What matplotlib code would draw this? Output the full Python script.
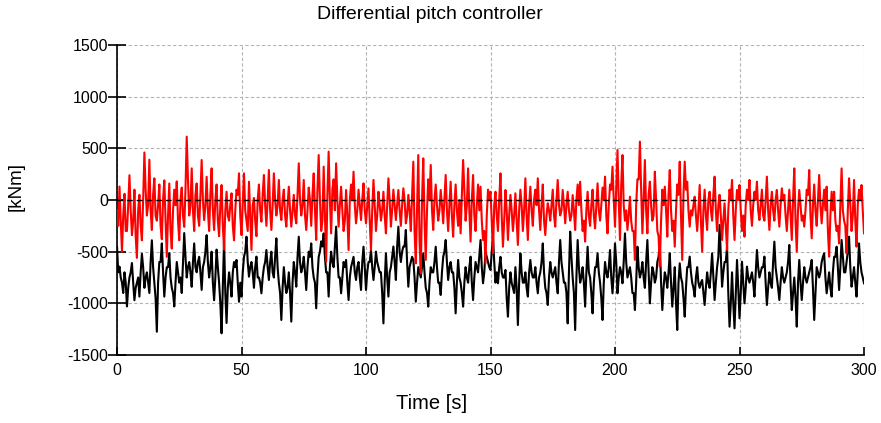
import numpy as np
import matplotlib
matplotlib.use("Agg")
import matplotlib.pyplot as plt

plt.rcParams['font.family'] = ['Liberation Sans', 'DejaVu Sans']
plt.rcParams['axes.unicode_minus'] = False

# values, whole seconds (kNm)
red = [
    -100, 130, -500, 60, -300, 240, -340, 100, -560, 50,
    -390, 460, -150, 390, -290, 210, -200, 150, -380, 190,
    -550, 160, -470, 100, 180, -390, 120, -260, 613, -150,
    306, -300, 160, -250, 387, -195, 225, -300, 306, -290,
    150, -350, 145, -480, 80, -200, 65, -390, 100, 258,
    -340, 258, -200, 177, -484, 20, -350, 150, -210, 242,
    -250, 290, -290, 258, -150, 194, -194, 100, -258, 129,
    -258, 50, -226, 355, -150, 194, -290, 120, -250, 258,
    -387, 435, -300, 323, -597, 468, -323, 200, 355, -258,
    129, -300, 97, -484, 150, 274, -226, 100, -194, 161,
    -226, 113, -484, 194, -300, 80, -200, 80, -323, 210,
    -258, 100, -194, 97, -250, 113, -226, 50, -300, 371,
    -613, 435, -710, 403, -580, 200, 339, -290, 150, -200,
    97, -226, 242, -300, 177, -355, 150, -250, -323, 387,
    -200, 306, -403, 242, -300, 150, 129, -387, -613, 100,
    80, -516, 80, -300, 258, -452, 97, -387, 50, -300,
    65, -435, 100, -300, 210, -387, 129, -250, 100, 210,
    -290, 150, -339, -32, -200, 100, -258, 194, -150, 97,
    -226, 80, -200, 48, -290, 150, 177, -300, -403, 80,
    -250, 100, -274, 161, -200, 120, 226, -323, 150, 323,
    -258, 484, -387, 435, -200, -290, 32, -300, -580, 200,
    565, -323, 387, -323, 177, -200, 274, -300, -645, 100,
    129, -355, 290, -300, -452, 150, 371, -580, 371, 177,
    -258, -150, 32, -300, 145, -500, 100, -290, 80, -200,
    226, -300, 50, -387, -32, -484, 100, 194, -387, 97,
    145, -300, -355, 100, 194, -250, 80, 177, -194, 100,
    -200, 226, -290, 80, -200, 97, -258, 113, 50, -300,
    100, -387, 306, -500, 97, -200, -258, 100, 290, -371,
    150, -250, 242, -226, 100, 129, -548, 80, 80, -300,
    -420, 306, -200, -516, 210, -300, 194, -452, 100, 145,
    -323,
]

# half-second samples in between
red_mid = [
    -250, -200, -150, -300, -50, -100, -200, -350, -100, -250,
    0, 100, -50, -100, 50, -150, -50, -250, 0, -200,
    -150, -300, -100, -50, -200, 0, -150, 100, 200, -50,
    -100, 50, -150, 50, 0, -50, -100, 50, -100, 0,
    -200, -50, -250, -100, -150, -50, -250, -100, 50, -150,
    -50, -100, -300, -150, -50, -200, 0, -100, 50, -50,
    0, -100, -50, 0, -50, -100, 0, -150, -50, -100,
    -100, -150, 50, 0, -50, -150, -100, 0, 50, -100,
    100, 0, -200, -150, 50, 0, 100, -100, 0, -50,
    -100, -200, -150, 0, 0, -50, -100, -50, 0, -100,
    -50, -200, -100, -50, -150, -50, -100, -150, -50, 0,
    -100, -50, -50, -100, -50, 0, -150, -100, 50, -300,
    -100, -400, 0, -200, -100, 0, -100, 0, -50, -100,
    -50, 0, -100, -50, -150, -50, -100, 0, 50, 100,
    -50, -100, 0, -150, -50, -100, -200, -300, -150, 0,
    -200, -50, -150, 0, -150, -200, -100, -150, -100, -150,
    -200, -100, -50, -100, -150, -50, -100, 0, -50, -100,
    -50, -200, -150, -100, -50, -150, 0, -50, -100, -50,
    -50, -100, -150, -100, 0, -50, -100, -200, -100, -150,
    -50, -150, -50, -100, -50, 0, -150, -50, 100, 0,
    100, 0, 150, -50, -100, -150, -200, -300, -50, 200,
    100, 0, -100, 50, -50, -150, 0, -350, -200, -50,
    -100, 50, -100, -200, -100, 50, -150, 50, 100, -100,
    -100, -50, -150, -100, -200, -100, -150, 0, -100, 50,
    -100, -50, -150, -200, -250, -100, 0, -150, -100, 0,
    -100, -150, -50, 0, -100, -50, 0, -100, -50, -150,
    0, -100, -50, -100, 0, -100, -50, 0, -150, -100,
    -150, 0, -200, -100, -50, -150, -100, 50, -150, -50,
    -100, 0, -50, -50, -100, -300, -150, -100, -200, -250,
    -50, -100, -250, -100, -50, -150, -200, -50, 0, -100,
]

black = [
    -450, -645, -800, -700, -1030, -750, -610, -970, -800, -935,
    -520, -850, -700, -900, -390, -800, -1275, -600, -420, -935,
    -650, -515, -850, -1030, -600, -800, -900, -320, -750, -600,
    -840, -420, -700, -550, -870, -600, -340, -750, -500, -970,
    -480, -800, -1290, -390, -1190, -700, -935, -600, -580, -985,
    -935, -550, -355, -742, -600, -850, -548, -750, -903, -650,
    -484, -774, -500, -750, -371, -800, -1161, -650, -900, -700,
    -1177, -600, -839, -355, -700, -550, -871, -500, -420, -750,
    -1048, -550, -400, -323, -700, -935, -500, -650, -258, -750,
    -903, -600, -580, -968, -650, -550, -774, -600, -871, -452,
    -871, -600, -484, -774, -500, -650, -700, -1194, -516, -935,
    -650, -450, -774, -258, -600, -450, -290, -839, -600, -580,
    -984, -650, -750, -516, -850, -1032, -650, -700, -452, -800,
    -919, -550, -387, -774, -600, -700, -1097, -580, -800, -1032,
    -650, -800, -548, -968, -600, -700, -387, -806, -500, -600,
    -677, -355, -800, -806, -550, -750, -677, -1129, -700, -850,
    -650, -1210, -516, -800, -700, -935, -580, -750, -650, -903,
    -700, -420, -850, -1016, -600, -750, -650, -903, -387, -700,
    -800, -1194, -306, -750, -1258, -387, -800, -650, -1032, -452,
    -750, -1097, -650, -516, -800, -1161, -600, -750, -484, -903,
    -420, -903, -650, -806, -323, -750, -650, -900, -1065, -452,
    -750, -600, -850, -387, -1000, -650, -800, -600, -420, -1065,
    -700, -850, -516, -1032, -650, -1258, -613, -800, -1129, -650,
    -548, -800, -935, -650, -850, -774, -1016, -700, -850, -516,
    -968, -650, -242, -839, -600, -452, -1226, -700, -1242, -580,
    -1145, -597, -1000, -645, -800, -700, -935, -484, -750, -650,
    -548, -1016, -700, -850, -403, -750, -968, -650, -800, -700,
    -435, -1065, -750, -1226, -580, -968, -650, -800, -700, -580,
    -1161, -650, -750, -600, -516, -903, -700, -935, -550, -452,
    -871, -387, -700, -600, -355, -839, -650, -935, -420, -700,
    -806,
]

black_mid = [
    -700, -750, -900, -800, -850, -700, -800, -850, -750, -700,
    -650, -750, -800, -600, -650, -950, -800, -600, -700, -750,
    -650, -750, -900, -800, -700, -750, -600, -550, -650, -700,
    -600, -650, -600, -700, -650, -500, -600, -650, -800, -750,
    -650, -1000, -850, -900, -850, -800, -700, -650, -800, -800,
    -700, -500, -600, -650, -700, -650, -750, -800, -750, -600,
    -650, -600, -700, -550, -650, -900, -850, -800, -850, -900,
    -800, -700, -550, -600, -650, -700, -650, -550, -650, -800,
    -750, -500, -450, -550, -700, -650, -600, -450, -550, -750,
    -750, -650, -800, -750, -600, -700, -650, -750, -600, -650,
    -700, -600, -650, -650, -600, -700, -900, -800, -750, -700,
    -550, -600, -450, -500, -500, -450, -600, -650, -550, -750,
    -800, -700, -650, -700, -900, -800, -700, -600, -650, -800,
    -700, -500, -600, -650, -700, -850, -800, -750, -900, -800,
    -750, -650, -800, -750, -650, -550, -650, -700, -550, -650,
    -500, -600, -700, -650, -700, -750, -950, -850, -800, -900,
    -850, -800, -700, -800, -850, -700, -700, -750, -800, -750,
    -600, -700, -900, -750, -700, -700, -800, -600, -600, -800,
    -900, -700, -550, -900, -750, -650, -750, -800, -700, -700,
    -900, -800, -650, -700, -950, -800, -700, -650, -750, -700,
    -600, -750, -700, -600, -600, -700, -750, -900, -800, -650,
    -700, -750, -600, -700, -800, -700, -750, -550, -800, -850,
    -750, -700, -800, -850, -1000, -800, -750, -950, -850, -650,
    -700, -850, -750, -800, -800, -900, -850, -800, -700, -750,
    -800, -550, -550, -700, -600, -900, -1000, -1000, -900, -850,
    -900, -800, -850, -750, -750, -800, -700, -650, -700, -650,
    -800, -850, -800, -600, -650, -850, -800, -750, -750, -600,
    -800, -900, -950, -800, -800, -800, -750, -750, -650, -850,
    -900, -700, -700, -550, -750, -800, -850, -700, -550, -650,
    -650, -550, -700, -500, -650, -750, -800, -700, -600, -750,
]

xticks = [0, 50, 100, 150, 200, 250, 300]
yticks = [-1500, -1000, -500, 0, 500, 1000, 1500]


def interleave(whole, half):
    out = []
    for i in range(len(whole)):
        out.append(whole[i])
        if i < len(half):
            out.append(half[i])
    return np.array(out, dtype=float)


red_all = interleave(red, red_mid)
black_all = interleave(black, black_mid)
t_red = np.linspace(0, 300, len(red_all))
t_black = np.linspace(0, 300, len(black_all))

fig = plt.figure(figsize=(8.81, 4.23), dpi=100)
ax = fig.add_axes([117 / 881, 1 - 355 / 423, (864 - 117) / 881, (355 - 45) / 423])

ax.plot(t_black, black_all, color='black', lw=1.5, zorder=3)
ax.plot(t_red, red_all, color='#ff0000', lw=1.5, zorder=4)
ax.axhline(0, color='black', lw=1.0, ls=(0, (4, 3)), zorder=5)

ax.set_xlim(0, 300)
ax.set_ylim(-1500, 1500)
ax.set_xticks(xticks)
ax.set_yticks(yticks)
ax.grid(True, color='#b4b4b4', ls=(0, (3, 2)), lw=0.8)
ax.set_axisbelow(True)

for s in ['top', 'right']:
    ax.spines[s].set_visible(False)
for s in ['left', 'bottom']:
    ax.spines[s].set_linewidth(1.2)

ax.tick_params(axis='y', direction='inout', length=13, width=1.2, labelsize=11.5, pad=0)
ax.tick_params(axis='x', direction='in', length=6, width=1.2, labelsize=11.5, pad=6)

fig.text(0.488, 0.965, 'Differential pitch controller', ha='center', va='center', fontsize=14)
fig.text(0.49, 0.045, 'Time [s]', ha='center', va='center', fontsize=14.5)
fig.text(0.018, 0.56, '[kNm]', ha='center', va='center', rotation=90, fontsize=13.5)

fig.savefig('out.png', dpi=100)
